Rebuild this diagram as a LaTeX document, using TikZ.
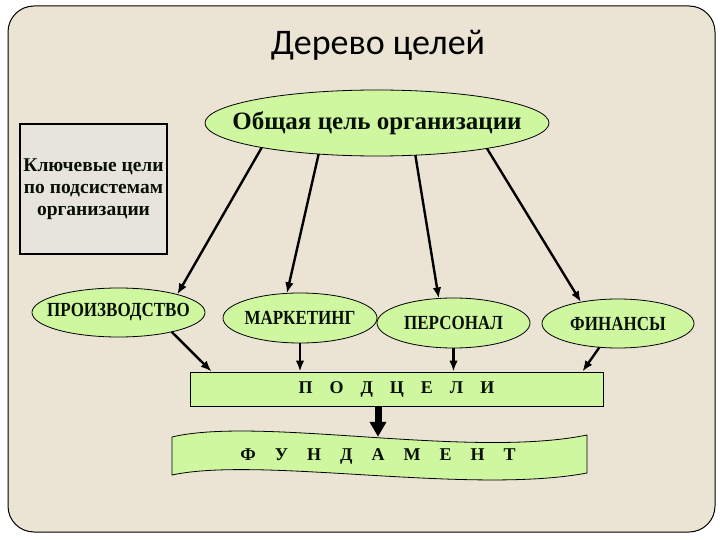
\documentclass[tikz,border=0pt]{standalone}
\usepackage{fontspec}
\usepackage{graphicx}
\setmainfont{Liberation Serif}
\newfontfamily\titlefont{Carlito}
\usetikzlibrary{shapes.geometric,calc,arrows.meta}
\definecolor{bg}{RGB}{235,228,212}
\definecolor{leaf}{RGB}{206,247,160}
\definecolor{boxfill}{RGB}{231,228,219}
\definecolor{ink}{RGB}{8,16,5}
\newcommand{\narrow}[1]{\makebox[0pt]{\scalebox{0.85}[1]{#1}}}
\begin{document}
\begin{tikzpicture}[x=1pt,y=-1pt,
  oval/.style={ellipse, draw=black, line width=0.8pt, fill=leaf, inner sep=0pt, outer sep=0pt,
    text=ink, font=\bfseries\fontsize{20}{22}\selectfont},
  arr/.style={-{Latex[length=11pt,width=8.5pt]}, line width=2.4pt, black},
  bigarr/.style={-{Triangle[length=15pt,width=16pt]}, line width=7pt, black},
  spaced/.style={text=ink, font=\bfseries\fontsize{18}{20}\selectfont, inner sep=0pt}
]
\useasboundingbox (0,0) rectangle (720,540);
\fill[white] (0,0) rectangle (720,540);
\draw[fill=bg, line width=1pt, rounded corners=26pt] (8,6) rectangle (715,532);

\node[font=\titlefont\fontsize{36}{40}\selectfont] (title) at (378,45) {Дерево целей};

\node[draw, line width=1.6pt, fill=boxfill, minimum width=147pt, minimum height=130pt, inner sep=0pt,
  align=center, text=ink, font=\bfseries\fontsize{19.5}{22}\selectfont] (key) at (93.5,189)
  {\makebox[0pt]{Ключевые цели}\\\makebox[0pt]{по подсистемам}\\\makebox[0pt]{организации}};

\node[oval, minimum width=344pt, minimum height=66pt, font=\bfseries\fontsize{25}{28}\selectfont]
  (goal) at (377,123) {\makebox[0pt]{Общая цель организации}};

\node[oval, minimum width=173pt, minimum height=49pt] (prod) at (118.5,312.5) {\narrow{ПРОИЗВОДСТВО}};
\node[oval, minimum width=154pt, minimum height=50pt] (mark) at (300,318) {\narrow{МАРКЕТИНГ}};
\node[oval, minimum width=153pt, minimum height=50pt] (pers) at (453.5,323) {\narrow{ПЕРСОНАЛ}};
\node[oval, minimum width=152pt, minimum height=49pt] (fin) at (618,323.5) {\narrow{ФИНАНСЫ}};

\node[draw, line width=0.8pt, fill=leaf, minimum width=413pt, minimum height=34pt, spaced]
  (sub) at (396.5,389) {П\hspace{17pt}О\hspace{17pt}Д\hspace{17pt}Ц\hspace{17pt}Е\hspace{17pt}Л\hspace{17pt}И};

\draw[fill=leaf, line width=0.8pt] (172,437) .. controls (260,416) and (470,459) .. (587,435)
  -- (587,473) .. controls (470,495) and (260,456) .. (172,475) -- cycle;
\node[spaced, minimum width=415pt, minimum height=38pt] (fund) at (378,456)
  {Ф\hspace{19pt}У\hspace{19pt}Н\hspace{19pt}Д\hspace{19pt}А\hspace{19pt}М\hspace{19pt}Е\hspace{19pt}Н\hspace{19pt}Т};

\draw[arr] (goal.192) -- (prod.17);
\draw[arr] (goal.208) -- (mark.118);
\draw[arr] (goal.320) -- (pers.121);
\draw[arr] (goal.347) -- (fin.150);

\draw[arr] (prod.-20) -- ($(sub.north west)+(22,0)$);
\draw[arr] (mark.south) -- (mark.south |- sub.north);
\draw[arr] (pers.south) -- (pers.south |- sub.north);
\draw[arr] (fin.232) -- ($(sub.north east)+(-21,0)$);
\draw[bigarr] (sub.south -| fund.north) -- (fund.north);
\end{tikzpicture}
\end{document}
